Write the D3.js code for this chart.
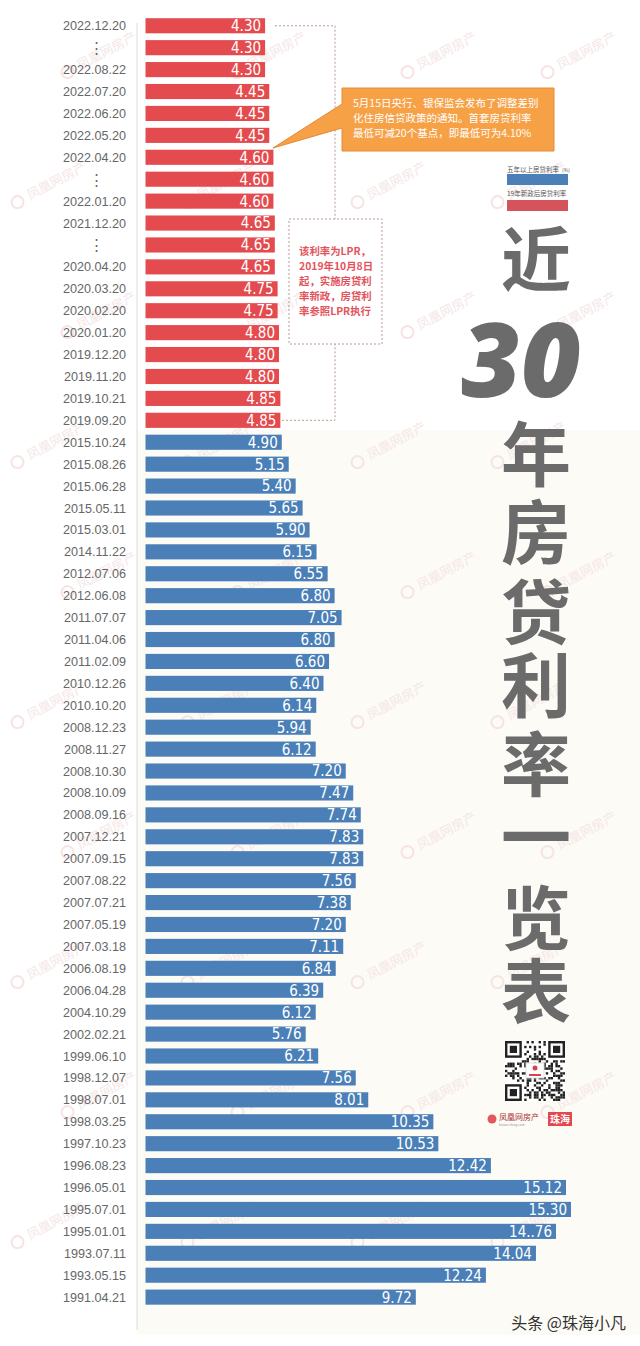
<!DOCTYPE html>
<html><head><meta charset="utf-8">
<script src="https://cdn.jsdelivr.net/npm/d3@7"></script>
<style>
html,body{margin:0;padding:0;background:#fff;}
svg{display:block;}
</style></head>
<body>
<svg id="chart" width="640" height="1346"></svg>
<script>
// ---------- DATA ----------
const redDates = ["2022.12.20","⋮","2022.08.22","2022.07.20","2022.06.20","2022.05.20","2022.04.20","⋮","2022.01.20","2021.12.20","⋮","2020.04.20","2020.03.20","2020.02.20","2020.01.20","2019.12.20","2019.11.20","2019.10.21","2019.09.20"];
const redValues = [4.30,4.30,4.30,4.45,4.45,4.45,4.60,4.60,4.60,4.65,4.65,4.65,4.75,4.75,4.80,4.80,4.80,4.85,4.85];
const blueDates = ["2015.10.24","2015.08.26","2015.06.28","2015.05.11","2015.03.01","2014.11.22","2012.07.06","2012.06.08","2011.07.07","2011.04.06","2011.02.09","2010.12.26","2010.10.20","2008.12.23","2008.11.27","2008.10.30","2008.10.09","2008.09.16","2007.12.21","2007.09.15","2007.08.22","2007.07.21","2007.05.19","2007.03.18","2006.08.19","2006.04.28","2004.10.29","2002.02.21","1999.06.10","1998.12.07","1998.07.01","1998.03.25","1997.10.23","1996.08.23","1996.05.01","1995.07.01","1995.01.01","1993.07.11","1993.05.15","1991.04.21"];
const blueValues = [4.90,5.15,5.40,5.65,5.90,6.15,6.55,6.80,7.05,6.80,6.60,6.40,6.14,5.94,6.12,7.20,7.47,7.74,7.83,7.83,7.56,7.38,7.20,7.11,6.84,6.39,6.12,5.76,6.21,7.56,8.01,10.35,10.53,12.42,15.12,15.30,14.76,14.04,12.24,9.72];
const labelOverrides = {"1995.01.01": "14..76"};
const legendLabels = ["五年以上房贷利率", "19年新政后房贷利率"];
const titleChars = ["近","30","年","房","贷","利","率","一","览","表"];
const noteLPR = ["该利率为LPR，","2019年10月8日","起，实施房贷利","率新政，房贷利","率参照LPR执行"];
const noteCallout = ["5月15日央行、银保监会发布了调整差别","化住房信贷政策的通知。首套房贷利率","最低可减20个基点，即最低可为4.10%"];

// ---------- BUILD ----------
const rows = redDates.map((d,i)=>({date:d, value:redValues[i], type:"red"}))
  .concat(blueDates.map((d,i)=>({date:d, value:blueValues[i], type:"blue"})));
rows.forEach((r,i)=>r.idx=i);

const colors = {red:"#e44b4f", blue:"#4a7fb7"};
const svg = d3.select("#chart");

// background tint (lower part)
svg.append("rect").attr("x",137).attr("y",430).attr("width",503).attr("height",905).attr("fill","#fdfbf6");

// watermarks
const wm = svg.append("g");
const wmX = [30, 200, 370, 510];
for (let yy = 70; yy < 1300; yy += 130) {
  const off = Math.round(yy/130)%2 ? 50 : 0;
  wmX.forEach(xx=>{
    const g = wm.append("g").attr("transform",`translate(${xx+off},${yy}) rotate(-28)`);
    g.append("circle").attr("cx",-12).attr("cy",-4).attr("r",6).attr("fill","none").attr("stroke","#f7e3e3").attr("stroke-width",2);
    g.append("text").attr("x",0).attr("y",0).attr("font-size",13).attr("font-family","Noto Sans CJK SC").attr("fill","#f5e7e7").text("凤凰网房产");
  });
}

const x = d3.scaleLinear().domain([0, 15.3]).range([145.5, 571]);
const y = d3.scaleBand().domain(rows.map(r=>r.idx)).range([14.8, 14.8 + 59*21.92]).paddingInner(0.31).paddingOuter(0.155);

// axis line
svg.append("line").attr("x1",137).attr("x2",137).attr("y1",23).attr("y2",1330).attr("stroke","#dcdcdc").attr("stroke-width",1);

// bars
svg.append("g").selectAll("rect").data(rows).join("rect")
  .attr("x", x(0)).attr("y", d=>y(d.idx))
  .attr("width", d=>x(d.value)-x(0)).attr("height", y.bandwidth())
  .attr("fill", d=>colors[d.type]);

// value labels
const fmt = d3.format(".2f");
svg.append("g").selectAll("text").data(rows).join("text")
  .attr("x", d=>x(d.value)-4).attr("y", d=>y(d.idx)+y.bandwidth()/2)
  .attr("dy","0.36em").attr("text-anchor","end")
  .attr("font-family","'Liberation Sans Narrow','DejaVu Sans Condensed','Roboto',sans-serif")
  .attr("font-size",15).attr("fill","#fff")
  .text(d=>labelOverrides[d.date] || fmt(d.value));

// category labels
svg.append("g").selectAll("text").data(rows).join("text")
  .attr("x", d=>d.date==="⋮" ? 96 : 126)
  .attr("y", d=>y(d.idx)+y.bandwidth()/2)
  .attr("dy","0.36em")
  .attr("text-anchor", d=>d.date==="⋮" ? "middle" : "end")
  .attr("font-family","'Liberation Sans',Arial,sans-serif")
  .attr("font-size", d=>d.date==="⋮" ? 15 : 12.6).attr("fill","#666")
  .text(d=>d.date);

// dashed bracket + LPR note
const dash = svg.append("g").attr("fill","none").attr("stroke","#b99898").attr("stroke-width",1).attr("stroke-dasharray","2,2");
const yTop = y(0)+y.bandwidth()/2, yBot = y(18)+y.bandwidth()/2;
dash.append("path").attr("d",`M275,${yTop}H335V219`);
dash.append("path").attr("d",`M282,${yBot}H335V344`);
dash.append("rect").attr("x",289).attr("y",219).attr("width",93).attr("height",125);
svg.append("g").selectAll("text").data(noteLPR).join("text")
  .attr("x",299).attr("y",(d,i)=>255+i*15)
  .attr("font-family","'Noto Sans CJK SC',sans-serif").attr("font-size",10.4).attr("font-weight",700)
  .attr("fill","#e2545c").text(d=>d);

// orange callout
const co = svg.append("g");
co.append("path").attr("d","M342,88H554V151H342V128L273,148L342,104Z")
  .attr("fill","#f6a146").attr("stroke","#e48a38").attr("stroke-width",1);
co.selectAll("text").data(noteCallout).join("text")
  .attr("x",353).attr("y",(d,i)=>107+i*15)
  .attr("font-family","'Noto Sans CJK SC',sans-serif").attr("font-size",10.5)
  .attr("fill","#fff").text(d=>d);

// legend
const lg = svg.append("g");
lg.append("text").attr("x",507).attr("y",172).attr("font-size",6.5).attr("font-family","'Noto Sans CJK SC'").attr("fill","#555")
  .text(legendLabels[0]).append("tspan").attr("dx",3).attr("font-size",5).text("(%)");
lg.append("rect").attr("x",507).attr("y",174).attr("width",61).attr("height",11).attr("fill",colors.blue);
lg.append("text").attr("x",507).attr("y",196).attr("font-size",6.5).attr("font-family","'Noto Sans CJK SC'").attr("fill","#555").text(legendLabels[1]);
lg.append("rect").attr("x",507).attr("y",200).attr("width",61).attr("height",11).attr("fill","#d5545c");

// vertical title (one text element, one tspan per character)
const titleY = [286, 397, 481, 559, 639, 712, 791, 864, 945, 1018];
const title = svg.append("text").attr("fill","#6b6b6b").attr("text-anchor","middle");
titleChars.forEach((c,i)=>{
  const t = title.append("tspan").attr("y",titleY[i]).text(c);
  if (c==="30") {
    t.attr("x",521).attr("font-family","'Open Sans',sans-serif").attr("font-weight",800)
     .attr("font-style","italic").attr("font-size",103);
  } else {
    t.attr("x",536).attr("font-family","'Noto Sans CJK SC',sans-serif").attr("font-weight",700)
     .attr("font-size",70);
  }
});

// QR-like decoration
const qr = svg.append("g").attr("transform","translate(505,1041)");
const N = 25, cell = 60/N;
qr.append("rect").attr("width",60).attr("height",60).attr("fill","#fff");
const mods = [];
for (let r=0;r<N;r++) for (let c=0;c<N;c++){
  const inFinder = (r<8&&c<8)||(r<8&&c>=N-8)||(r>=N-8&&c<8);
  if (inFinder) continue;
  const h = ((r*73856093) ^ (c*19349663) ^ (r*c*83492791)) >>> 0;
  if (h % 7 < 3) mods.push([r,c]);
}
qr.selectAll("rect.m").data(mods).join("rect").attr("class","m")
  .attr("x",d=>d[1]*cell).attr("y",d=>d[0]*cell).attr("width",cell).attr("height",cell).attr("fill","#222");
[[0,0],[0,N-7],[N-7,0]].forEach(([r,c])=>{
  qr.append("rect").attr("x",c*cell+cell/2).attr("y",r*cell+cell/2).attr("width",6*cell).attr("height",6*cell).attr("fill","none").attr("stroke","#222").attr("stroke-width",cell);
  qr.append("rect").attr("x",(c+2)*cell).attr("y",(r+2)*cell).attr("width",3*cell).attr("height",3*cell).attr("fill","#222");
});
qr.append("rect").attr("x",21).attr("y",22).attr("width",18).attr("height",15).attr("fill","#fff").attr("stroke","#ddd");
qr.append("circle").attr("cx",30).attr("cy",27).attr("r",2.5).attr("fill","#d9434a");
qr.append("rect").attr("x",24).attr("y",33).attr("width",12).attr("height",2).attr("fill","#d9434a");

// logo row
const lo = svg.append("g");
lo.append("circle").attr("cx",492).attr("cy",1119).attr("r",4.5).attr("fill","#e2585c");
lo.append("text").attr("x",499).attr("y",1120).attr("font-size",8).attr("font-family","'Noto Sans CJK SC'").attr("fill","#a33").text("凤凰网房产");
lo.append("text").attr("x",499).attr("y",1126).attr("font-size",3.5).attr("font-family","'Liberation Sans'").attr("fill","#999").text("house.ifeng.com");
lo.append("rect").attr("x",548).attr("y",1112).attr("width",24).attr("height",14).attr("fill","#e2484e");
lo.append("text").attr("x",560).attr("y",1123).attr("text-anchor","middle").attr("font-size",10).attr("font-family","'Noto Sans CJK SC'").attr("font-weight",700).attr("fill","#fff").text("珠海");

// footer
svg.append("text").attr("x",626).attr("y",1329).attr("text-anchor","end")
  .attr("font-family","'Noto Sans CJK SC',sans-serif").attr("font-size",16).attr("fill","#333")
  .text("头条 @珠海小凡");
</script>
</body></html>
